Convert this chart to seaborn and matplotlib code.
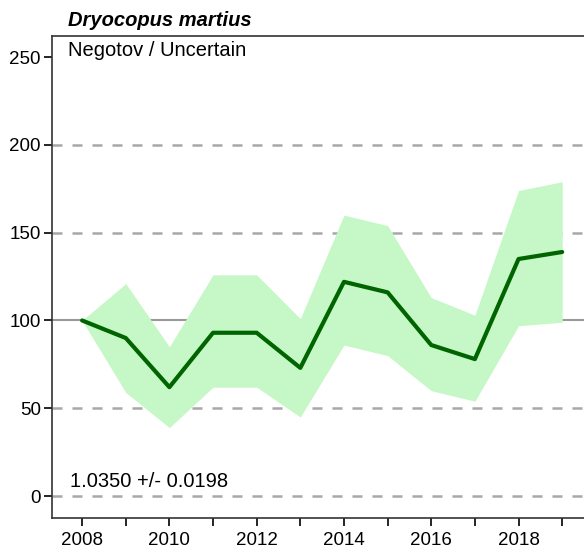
import numpy as np
import pandas as pd
import matplotlib.pyplot as plt
import seaborn as sns

# podatki, odčitani s slike
leta = [2008, 2009, 2010, 2011, 2012, 2013, 2014, 2015, 2016, 2017, 2018, 2019]
indeks = [100, 90, 62, 93, 93, 73, 122, 116, 86, 78, 135, 139]
zgornja = [100, 121, 85, 126, 126, 101, 160, 154, 113, 103, 174, 179]
spodnja = [100, 59, 39, 62, 62, 45, 86, 80, 60, 54, 97, 99]

trend_besedilo = "1.0350 +/- 0.0198"
status = "Negotov / Uncertain"
vrsta = "Dryocopus martius"

df = pd.DataFrame({'leto': leta, 'indeks': indeks,
                   'zgornja': zgornja, 'spodnja': spodnja})

sns.set_style("white")
plt.rcParams['font.family'] = ['Liberation Sans', 'DejaVu Sans']
plt.rcParams['text.color'] = 'black'

fig = plt.figure(figsize=(5.84, 5.49), dpi=100)
ax = fig.add_axes([52 / 584, 31 / 549, 1 - 52 / 584, (518 - 36) / 549])

# referenčne črte
for y in [0, 50, 150, 200]:
    ax.axhline(y, color='#a8a8a8', lw=1.8, ls=(0, (4, 4)), zorder=1)
ax.axhline(100, color='#999999', lw=1.5, zorder=1)

ax.fill_between(df['leto'], df['spodnja'], df['zgornja'],
                color='#c6f7c6', lw=0, zorder=2)
sns.lineplot(data=df, x='leto', y='indeks', color='#006400',
             lw=3, ax=ax, zorder=3)

ax.set_xlim(2007.31, 2019.5)
ax.set_ylim(-12.5, 262)
ax.set_xticks(range(2008, 2020))
ax.set_xticklabels([str(l) if l % 2 == 0 else '' for l in range(2008, 2020)])
ax.set_yticks([0, 50, 100, 150, 200, 250])
ax.set_xlabel('')
ax.set_ylabel('')
ax.tick_params(axis='both', direction='out', length=6, width=1.2,
               labelsize=13.5, colors='black', left=True, bottom=True)
ax.tick_params(axis='x', pad=4)
ax.tick_params(axis='y', pad=2)

for s in ['left', 'bottom', 'top']:
    ax.spines[s].set_color('#333333')
    ax.spines[s].set_linewidth(1.2)
ax.spines['right'].set_visible(False)

ax.text(16 / 532, 0.99, status, transform=ax.transAxes, ha='left', va='top',
        fontsize=14.5, color='black')
ax.text(18 / 532, 0.075, trend_besedilo, transform=ax.transAxes, ha='left',
        va='center', fontsize=14.5, color='black')
fig.text(68 / 584, 1 - 21 / 549, vrsta, ha='left', va='center',
         fontsize=14.5, fontweight='bold', fontstyle='italic', color='black')

fig.savefig('out.png', dpi=100)
